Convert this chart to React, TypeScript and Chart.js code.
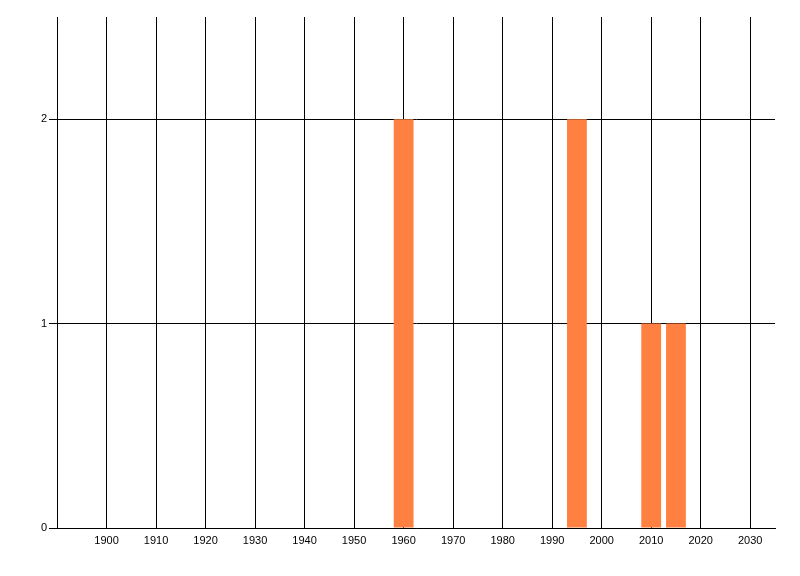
import React, { useEffect, useRef } from "react";
import { Chart, registerables } from "chart.js";

Chart.register(...registerables);

const years = [1960, 1995, 2010, 2015];
const counts = [2, 2, 1, 1];
const xTicks = [1900, 1910, 1920, 1930, 1940, 1950, 1960, 1970, 1980, 1990, 2000, 2010, 2020, 2030];
const yTicks = [0, 1, 2];

export default function App() {
  const ref = useRef<HTMLCanvasElement | null>(null);
  useEffect(() => {
    if (!ref.current) return;
    const font = { family: "'Liberation Sans', Arial, sans-serif", size: 11 };
    const chart = new Chart(ref.current, {
      type: "bar",
      data: {
        datasets: [
          {
            data: years.map((x, i) => ({ x, y: counts[i] })),
            backgroundColor: "rgb(255,128,64)",
            borderWidth: 0,
            categoryPercentage: 1,
            barPercentage: 0.8,
          },
        ],
      },
      options: {
        responsive: false,
        animation: false,
        devicePixelRatio: 1,
        layout: { padding: { left: 0, top: 17, right: 25, bottom: 0 } },
        plugins: { legend: { display: false }, tooltip: { enabled: false } },
        scales: {
          x: {
            type: "linear",
            min: 1890,
            max: 2035,
            offset: false,
            afterBuildTicks: (s: any) => {
              s.ticks = xTicks.map((v) => ({ value: v }));
            },
            afterFit: (s: any) => {
              s.height = 48;
            },
            grid: { color: "#000", lineWidth: 1, drawTicks: false, offset: false },
            border: { display: true, color: "#000", width: 1 },
            ticks: { color: "#000", font, padding: 6, maxRotation: 0, autoSkip: false, callback: (v: any) => String(v) },
          },
          y: {
            type: "linear",
            min: 0,
            max: 2.5,
            afterBuildTicks: (s: any) => {
              s.ticks = yTicks.map((v) => ({ value: v }));
            },
            afterFit: (s: any) => {
              s.width = 57;
            },
            grid: { color: "#000", lineWidth: 1, drawTicks: true, tickLength: 8 },
            border: { display: true, color: "#000", width: 1 },
            ticks: { color: "#000", font, padding: 2, callback: (v: any) => String(v) },
          },
        },
      },
    });
    return () => chart.destroy();
  }, []);
  return (
    <div style={{ position: "fixed", left: 0, top: 0, width: 800, height: 576, background: "#fff" }}>
      <canvas ref={ref} width={800} height={576} style={{ width: 800, height: 576, display: "block" }} />
    </div>
  );
}
